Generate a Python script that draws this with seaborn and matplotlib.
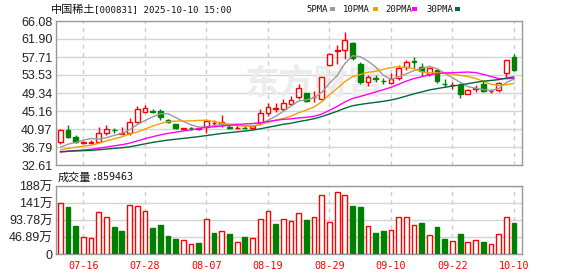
import numpy as np
import pandas as pd
import matplotlib
matplotlib.use("Agg")
import matplotlib.pyplot as plt
from matplotlib.patches import Rectangle
import seaborn as sns

# ---------------- data ----------------
dates = ["07-11", "07-14", "07-15", "07-16", "07-17", "07-18", "07-21", "07-22", "07-23", "07-24",
         "07-25", "07-28", "07-29", "07-30", "07-31", "08-01", "08-04", "08-05", "08-06", "08-07",
         "08-08", "08-11", "08-12", "08-13", "08-14", "08-15", "08-18", "08-19", "08-20", "08-21",
         "08-22", "08-25", "08-26", "08-27", "08-28", "08-29", "09-01", "09-02", "09-03", "09-04",
         "09-05", "09-08", "09-09", "09-10", "09-11", "09-12", "09-15", "09-16", "09-17", "09-18",
         "09-19", "09-22", "09-23", "09-24", "09-25", "09-26", "09-29", "09-30", "10-09", "10-10"]

open_ = [38.03, 40.75, 39.05, 37.75, 37.70, 38.03, 39.98, 40.85, 39.90, 39.98,
         42.54, 45.00, 45.10, 45.16, 43.08, 42.07, 40.90, 41.20, 40.90, 41.53,
         42.30, 42.15, 41.50, 41.10, 41.30, 41.14, 42.30, 44.77, 45.60, 45.56,
         46.72, 48.49, 49.28, 48.30, 47.95, 55.86, 59.20, 59.34, 60.90, 56.02,
         51.83, 52.80, 52.20, 51.60, 52.90, 55.32, 56.70, 55.32, 53.76, 54.70,
         51.50, 51.10, 51.21, 49.12, 50.30, 51.44, 49.80, 50.04, 53.92, 57.79]
high = [40.90, 41.91, 39.60, 38.30, 38.40, 41.38, 41.90, 41.30, 41.38, 43.47,
        46.33, 46.56, 45.60, 45.56, 43.30, 42.20, 41.20, 41.40, 41.20, 43.23,
        43.08, 44.20, 41.90, 41.90, 41.60, 42.00, 45.60, 47.00, 47.10, 47.90,
        48.72, 51.37, 49.40, 49.80, 53.14, 58.56, 60.50, 63.45, 61.20, 56.60,
        53.50, 53.50, 52.90, 53.90, 55.90, 57.00, 57.80, 56.40, 55.40, 54.90,
        52.50, 52.00, 51.60, 50.20, 51.20, 52.10, 50.20, 52.00, 57.00, 58.50]
low = [37.60, 38.82, 37.65, 37.50, 37.40, 37.90, 39.60, 39.98, 39.75, 39.60,
       42.30, 45.00, 44.77, 43.08, 42.30, 41.00, 40.80, 40.80, 40.80, 40.12,
       41.75, 41.50, 41.00, 41.00, 40.90, 40.90, 41.90, 43.90, 44.90, 45.20,
       46.56, 47.95, 47.30, 47.20, 47.72, 55.60, 56.00, 57.25, 57.00, 51.45,
       51.05, 51.80, 51.40, 51.40, 52.30, 54.70, 55.10, 53.30, 53.30, 51.70,
       50.80, 50.20, 48.10, 49.00, 49.65, 49.65, 49.30, 49.65, 53.00, 54.50]
close = [40.75, 39.19, 38.03, 37.90, 38.00, 39.98, 40.90, 40.70, 40.05, 42.54,
         45.56, 45.79, 45.00, 43.84, 42.54, 41.14, 41.15, 41.10, 41.15, 42.84,
         42.40, 42.70, 41.27, 41.30, 41.10, 41.75, 44.77, 46.17, 45.80, 47.10,
         47.72, 50.58, 47.50, 48.50, 53.00, 58.41, 59.40, 61.66, 57.55, 51.97,
         53.14, 52.70, 52.10, 52.53, 55.08, 56.63, 56.50, 54.53, 55.08, 52.20,
         51.40, 51.30, 49.12, 50.04, 50.50, 49.88, 49.90, 51.60, 57.00, 54.70]
# closes of the 29 sessions before the window (estimated so the MAs start where drawn)
close_before = [36.2, 35.8, 36.0, 35.6, 36.1, 35.9, 35.7, 36.0, 35.8, 35.9,
                35.0, 34.8, 35.2, 35.1, 34.9, 35.3, 35.0, 35.2, 35.1, 35.4,
                35.3, 35.6, 35.4, 35.7, 35.5, 35.5, 35.8, 35.6, 35.86]

# volume in units of 万 (10k)
volume = [142.0, 129.3, 77.4, 46.4, 43.7, 115.6, 103.8, 74.7, 63.7, 134.8,
          132.0, 118.4, 71.9, 80.1, 50.1, 41.9, 38.2, 28.2, 31.9, 98.3,
          59.2, 62.8, 56.5, 33.7, 47.3, 43.7, 98.3, 118.4, 83.8, 95.6,
          90.1, 114.7, 93.8, 101.1, 163.9, 87.4, 172.1, 163.9, 132.0, 129.3,
          76.5, 58.3, 63.7, 65.6, 101.1, 101.1, 79.2, 85.6, 51.9, 74.7,
          41.9, 36.4, 55.5, 33.7, 38.2, 33.7, 27.3, 55.5, 101.1, 85.9463]
vol_up = [1, 0, 0, 1, 1, 1, 1, 0, 0, 1, 1, 1, 0, 0, 0, 0, 1, 1, 0, 1,
          0, 1, 0, 1, 0, 1, 1, 1, 0, 1, 1, 1, 0, 1, 1, 1, 1, 1, 0, 0,
          1, 0, 0, 1, 1, 1, 1, 0, 1, 0, 0, 1, 0, 1, 1, 0, 1, 1, 1, 0]

price_ticks = [32.61, 36.79, 40.97, 45.16, 49.34, 53.53, 57.71, 61.90, 66.08]
price_labels = ["32.61", "36.79", "40.97", "45.16", "49.34", "53.53", "57.71", "61.90", "66.08"]
vol_ticks = [0, 46.89, 93.78, 140.67, 187.56]
vol_labels = ["0", "46.89万", "93.78万", "141万", "188万"]
date_ticks = ["07-16", "07-28", "08-07", "08-19", "08-29", "09-10", "09-22", "10-10"]
ma_periods = [5, 10, 20, 30]
ma_names = ["5PMA", "10PMA", "20PMA", "30PMA"]
ma_colors = ["#9a9a9a", "#f2a200", "#ff00ff", "#006a36"]
title_name = "中国稀土"
title_rest = "[000831] 2025-10-10 15:00"

# ---------------- style ----------------
RED = "#ff0000"
GREEN = "#008000"
TXT = "#222222"
sns.set_theme(style="white")
plt.rcParams['font.family'] = ['Liberation Sans', 'Noto Sans CJK SC', 'DejaVu Sans']

W, H = 578, 276
fig = plt.figure(figsize=(W / 100, H / 100), dpi=100)


def rect(l, t, r, b):
    return [l / W, 1 - b / H, (r - l) / W, (b - t) / H]


axp = fig.add_axes(rect(56, 21, 522, 165))
axv = fig.add_axes(rect(56, 186, 522, 254.3))

n = len(close)
x = np.arange(n)
o = np.array(open_); c = np.array(close); hi = np.array(high); lo = np.array(low)
up = c >= o
tick_pos = [dates.index(d) for d in date_ticks]

# moving averages
full = pd.Series(close_before + close)
rows = []
for p, name in zip(ma_periods, ma_names):
    vals = full.rolling(p).mean().iloc[len(close_before):].values
    rows.append(pd.DataFrame({"i": x, "v": vals, "ma": name}))
df_ma = pd.concat(rows, ignore_index=True)

for ax in (axp, axv):
    ax.set_facecolor("white")
    ax.set_xlim(-0.56, 60.04)
    for s in ax.spines.values():
        s.set_color("#9a9a9a")
        s.set_linewidth(1.0)
    ax.set_xticks(tick_pos)
    ax.grid(False)
    ax.xaxis.grid(True, color="#cccccc", lw=1.0, ls=(0, (3, 3)))
    ax.yaxis.grid(True, color="#d4d4d4", lw=1.0)
    ax.set_axisbelow(True)
    ax.tick_params(length=0)

# watermark
axp.text(0.555, 0.57, "东方财富", transform=axp.transAxes, ha="center", va="center",
         fontsize=25, fontweight="bold", color="#ececec", family="Noto Sans CJK SC", zorder=0.8)

# candles
wick_cols = np.where(up, RED, GREEN)
axp.vlines(x, lo, hi, colors=wick_cols, lw=1.0, zorder=2)
bot = np.minimum(o, c)
hgt = np.maximum(np.abs(c - o), 0.06)
axp.bar(x[up], hgt[up], bottom=bot[up], width=0.62, facecolor="white", edgecolor=RED,
        linewidth=1.0, zorder=3)
axp.bar(x[~up], hgt[~up], bottom=bot[~up], width=0.62, facecolor=GREEN, edgecolor=GREEN,
        linewidth=1.0, zorder=3)

sns.lineplot(data=df_ma, x="i", y="v", hue="ma", hue_order=ma_names,
             palette=dict(zip(ma_names, ma_colors)), ax=axp, legend=False,
             linewidth=1.0, zorder=4)

axp.set_ylim(price_ticks[0], price_ticks[-1])
axp.set_yticks(price_ticks)
axp.set_yticklabels(price_labels, fontsize=9, color=TXT)
axp.set_xticklabels([])
axp.set_xlabel(""); axp.set_ylabel("")
axp.tick_params(axis="y", pad=2.5)

# volume
vu = np.array(vol_up, dtype=bool)
v = np.array(volume)
axv.bar(x[vu], v[vu], width=0.62, facecolor="white", edgecolor=RED, linewidth=1.0, zorder=3)
axv.bar(x[~vu], v[~vu], width=0.62, facecolor=GREEN, edgecolor=GREEN, linewidth=1.0, zorder=3)
axv.set_ylim(vol_ticks[0], vol_ticks[-1])
axv.set_yticks(vol_ticks)
axv.set_yticklabels(vol_labels, fontsize=9, color=TXT)
axv.set_xticklabels(date_ticks, color=RED, fontsize=7.3, family="DejaVu Sans Mono")
axv.tick_params(axis="y", pad=2.5)
axv.tick_params(axis="x", pad=4.5)

# title / legend
fig.text(51 / W, 1 - 10 / H, title_name, family="Noto Sans CJK SC", fontsize=8,
         va="center", ha="left", color="#111111")
fig.text(94.3 / W, 1 - 10 / H, title_rest, family="DejaVu Sans Mono", fontsize=6.6,
         va="center", ha="left", color="#111111")
leg_x = [306, 343, 385, 426]
sq_x = [330, 373, 412, 455]
for name, col, lx, sx in zip(ma_names, ma_colors, leg_x, sq_x):
    fig.text(lx / W, 1 - 9.5 / H, name, family="DejaVu Sans Mono", fontsize=6.4,
             va="center", ha="left", color="#111111")
    fig.add_artist(Rectangle((sx / W, 1 - 10.5 / H), 5 / W, 3 / H, transform=fig.transFigure,
                             facecolor=col, edgecolor="none"))

fig.text(58 / W, 1 - 177.5 / H, "成交量", family="Noto Sans CJK SC", fontsize=8,
         va="center", ha="left", color="#111111")
fig.text(91.7 / W, 1 - 177.5 / H, ":%d" % round(volume[-1] * 10000), family="DejaVu Sans Mono",
         fontsize=7.2, va="center", ha="left", color="#111111")

fig.savefig("out.png", dpi=100)
